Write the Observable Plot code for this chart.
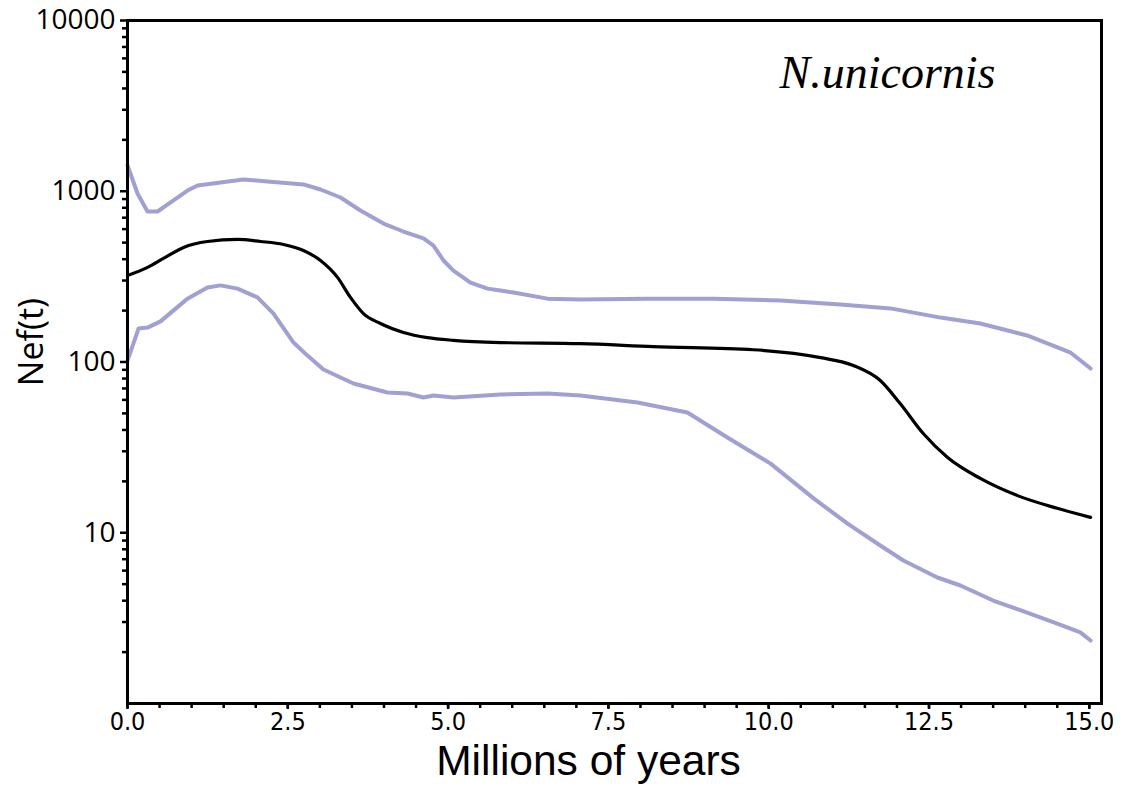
<!DOCTYPE html>
<html>
<head>
<meta charset="utf-8">
<script src="https://cdn.jsdelivr.net/npm/d3@7"></script>
<script src="https://cdn.jsdelivr.net/npm/@observablehq/plot@0.6"></script>
<style>
  html, body { margin: 0; padding: 0; background: #fff; }
  #chart svg { display: block; }
</style>
</head>
<body>
<div id="chart"></div>
<script>
// Millions of years (x) and Nef(t) (y)
const upperT = [0, 0.156, 0.312, 0.468, 0.717, 0.936, 1.092, 1.45, 1.809, 2.183, 2.744, 3.01, 3.322, 3.633, 3.992, 4.304, 4.616, 4.772, 4.928, 5.083, 5.349, 5.614, 5.816, 6.019, 6.549, 7.064, 8.109, 9.138, 10.18, 11.12, 11.9, 12.68, 13.3, 14.03, 14.7, 15.02];
const upperN = [1420, 970, 761, 761, 883, 1010, 1081, 1125, 1172, 1141, 1096, 1024, 919, 771, 647, 581, 529, 481, 393, 343, 292, 269, 262, 255, 235, 232, 235, 235, 229, 217, 206, 182, 168, 143, 114, 91.6];

const medianT = [0, 0.312, 0.561, 0.873, 1.247, 1.715, 2.074, 2.433, 2.744, 3.01, 3.275, 3.477, 3.68, 3.945, 4.304, 4.678, 5.083, 5.816, 7.064, 8.202, 9.761, 10.81, 11.32, 11.74, 12.05, 12.41, 12.79, 13.3, 13.88, 14.5, 15.02];
const medianN = [321, 358, 404, 469, 508, 522, 508, 488, 450, 393, 313, 239, 192, 168, 149, 139, 134, 130, 128, 123, 118, 106, 95.4, 77.9, 57.1, 38.1, 27.6, 20.8, 16.5, 13.9, 12.3];

const lowerT = [0, 0.172, 0.312, 0.515, 0.936, 1.247, 1.45, 1.715, 2.027, 2.277, 2.589, 2.807, 3.056, 3.524, 4.054, 4.366, 4.616, 4.772, 5.083, 5.816, 6.549, 7.064, 7.953, 8.732, 9.356, 10.03, 10.7, 11.23, 11.74, 12.1, 12.63, 12.99, 13.5, 14.03, 14.5, 14.86, 15.02];
const lowerN = [102, 157, 159, 173, 235, 273, 281, 269, 239, 192, 130, 109, 90.4, 74.8, 66.3, 65.4, 62.0, 63.7, 62.0, 64.5, 65.4, 63.7, 57.9, 50.6, 36.1, 25.4, 15.9, 11.3, 8.42, 6.88, 5.47, 4.91, 4.01, 3.41, 2.94, 2.61, 2.34];

const xMajor = [0, 2.5, 5, 7.5, 10, 12.5, 15];
const xMinor = d3.range(0, 15.01, 0.5);
const yMajor = [10, 100, 1000, 10000];
const yMinor = [1, 10, 100, 1000].flatMap(d => [2,3,4,5,6,7,8,9].map(k => k * d));

const title = "N.unicornis";
const xLabel = "Millions of years";
const yLabel = "Nef(t)";

const toRows = (ts, ns) => ts.map((t, i) => ({t, n: ns[i]}));
const upper = toRows(upperT, upperN);
const median = toRows(medianT, medianN);
const lower = toRows(lowerT, lowerN);

const band = "#a0a0d2";
const sans = "'Open Sans', sans-serif";

const chart = Plot.plot({
  width: 1124,
  height: 787,
  marginLeft: 127,
  marginRight: 23,
  marginTop: 20,
  marginBottom: 84,
  x: {domain: [0, 15.19]},
  y: {type: "log", domain: [1, 10000]},
  marks: [
    Plot.line(upper, {x: "t", y: "n", stroke: band, strokeWidth: 4}),
    Plot.line(lower, {x: "t", y: "n", stroke: band, strokeWidth: 4}),
    Plot.line(median, {x: "t", y: "n", stroke: "#000", strokeWidth: 3.2, curve: "monotone-x"}),
    Plot.axisY({ticks: yMinor, tickSize: 5, strokeWidth: 2.5, tickFormat: () => "", label: null}),
    Plot.axisY({ticks: yMajor, tickSize: 7, strokeWidth: 2.5, tickPadding: 5, tickFormat: d => String(d), label: null,
      fontSize: 28, fontFamily: sans}),
    Plot.axisX({ticks: xMinor, tickSize: 5, strokeWidth: 2.5, tickFormat: () => "", label: null}),
    Plot.axisX({ticks: xMajor, tickSize: 6, strokeWidth: 2.5, tickPadding: 3, tickFormat: d3.format(".1f"), label: null,
      fontSize: 25, fontFamily: "'Liberation Sans Narrow', 'DejaVu Sans Condensed', sans-serif"}),
    Plot.frame({stroke: "#000", strokeWidth: 3}),
    Plot.text([title], {frameAnchor: "top-right", text: d => d, textAnchor: "end", lineAnchor: "middle",
      dx: -106, dy: 53, fontSize: 46, fontStyle: "italic", fontFamily: "'Liberation Serif', serif", fill: "#000"}),
    Plot.text([xLabel], {frameAnchor: "bottom", text: d => d, textAnchor: "middle", lineAnchor: "middle", dx: -26, dy: 58,
      fontSize: 42.5, fontFamily: "'Liberation Sans', Arial, sans-serif", fill: "#000"}),
    Plot.text([yLabel], {ariaLabel: "ylab", frameAnchor: "left", text: d => d, textAnchor: "middle", rotate: -90,
      lineAnchor: "middle", dx: -95, dy: -20, fontSize: 34, fontFamily: sans, fill: "#000"})
  ]
});

// stretch glyphs vertically to mimic the tall lettering of the original y label
function stretch(selector, sy) {
  chart.querySelectorAll(selector).forEach(t => {
    let tr = t.getAttribute("transform");
    if (!tr) {
      const x = t.getAttribute("x") || 0, y = t.getAttribute("y") || 0;
      t.removeAttribute("x"); t.removeAttribute("y");
      tr = `translate(${x},${y})`;
    }
    t.setAttribute("transform", `${tr} scale(1,${sy})`);
  });
}
stretch('g[aria-label="ylab"] text', 1.3);

document.getElementById("chart").appendChild(chart);
</script>
</body>
</html>
